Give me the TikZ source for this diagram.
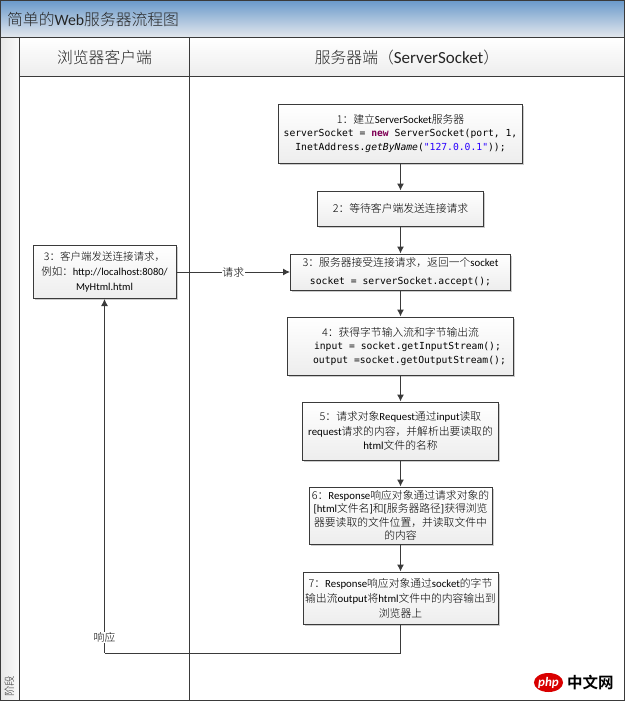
\documentclass[tikz,border=0pt]{standalone}
\usepackage{fontspec}
\setmainfont{Noto Sans CJK SC}[UprightFont=* Light]
\setmonofont{DejaVu Sans Mono}
\newfontfamily\latfont{Carlito}
\newcommand{\lat}[1]{{\latfont #1}}
\usetikzlibrary{arrows.meta,shadows,shapes.geometric}
\definecolor{codeword}{HTML}{7F0055}
\definecolor{codestring}{HTML}{2A00FF}
\definecolor{inkgray}{HTML}{3A3A3A}
\definecolor{titletop}{HTML}{6C9BCB}
\definecolor{titlebottom}{HTML}{E6E9EE}
\tikzset{
  flowbox/.style={draw=inkgray,line width=1pt,top color=white,bottom color=black!7,
    text=black,align=center,inner sep=0pt,
    drop shadow={shadow xshift=1.5pt,shadow yshift=-1.5pt,fill=black!40,opacity=0.5},
    font=\fontsize{10.8}{13.5}\selectfont},
  flowline/.style={draw=inkgray,line width=1pt},
  flowarrow/.style={flowline,-{Latex[length=7pt,width=7pt]}},
  linelabel/.style={fill=white,inner sep=0.5pt,text=black,font=\fontsize{10.8}{12}\selectfont},
  headtext/.style={text=black!85,font=\fontsize{15.8}{18}\selectfont},
}
\begin{document}
\begin{tikzpicture}[x=1pt,y=-1pt]
\useasboundingbox (0,0) rectangle (625,701);

% swimlane frame
\shade[top color=white,bottom color=black!7] (19,38) rectangle (624,76);
\shade[left color=black!9,right color=black!2] (1,38) rectangle (19,700);
\shade[top color=titletop,bottom color=titlebottom] (1,1) rectangle (624,38);
\draw[flowline] (0.5,0.5) rectangle (624,700);
\draw[flowline] (0.5,38) -- (624,38);
\draw[flowline] (19,76) -- (624,76);
\draw[flowline] (19,38) -- (19,700);
\draw[flowline] (189,38) -- (189,700);

\node[anchor=west,inner sep=0pt,text=black!85,font=\fontsize{15.8}{18}\selectfont] (title) at (7,19)
  {简单的\lat{Web}服务器流程图};
\node[headtext] (clienthead) at (104.5,57) {浏览器客户端};
\node[headtext] (serverhead) at (407,57) {服务器端（\lat{\fontsize{17}{18}\selectfont ServerSocket}）};
\node[rotate=90,text=black!80,inner sep=0pt,font=\fontsize{10.5}{12}\selectfont] (phase) at (9.5,686) {阶段};

% flow boxes
\node[flowbox,minimum width=244pt,minimum height=59pt] (server1) at (400.5,133.5)
  {1：建立\lat{ServerSocket}服务器\\
   \fontsize{9.7}{13}\selectfont\ttfamily serverSocket = \textcolor{codeword}{\bfseries new} ServerSocket(port, 1,\\
   \fontsize{9.7}{13}\selectfont\ttfamily InetAddress.\textit{getByName}(\textcolor{codestring}{"127.0.0.1"}));};
\node[flowbox,minimum width=166pt,minimum height=35pt] (server2) at (400.5,208.5)
  {2：等待客户端发送连接请求};
\node[flowbox,minimum width=220pt,minimum height=36pt] (server3) at (400.5,272)
  {3：服务器接受连接请求，返回一个\lat{socket}\\[4pt]
   \fontsize{9.7}{13}\selectfont\ttfamily socket = serverSocket.accept();};
\node[flowbox,minimum width=226pt,minimum height=58pt] (server4) at (400.5,346)
  {4：获得字节输入流和字节输出流\\
   \hspace*{14pt}\fontsize{9.7}{13}\selectfont\ttfamily input = socket.getInputStream();\\
   \hspace*{18pt}\fontsize{9.7}{13}\selectfont\ttfamily output =socket.getOutputStream();};
\node[flowbox,minimum width=196pt,minimum height=58pt,font=\fontsize{10.8}{14.5}\selectfont] (server5) at (400.5,431)
  {5：请求对象\lat{Request}通过\lat{input}读取\\
   \lat{request}请求的内容，并解析出要读取的\\
   \lat{html}文件的名称};
\node[flowbox,minimum width=183pt,minimum height=57pt] (server6) at (400.5,515.5)
  {6：\lat{Response}响应对象通过请求对象的\\
   \lat{[html}文件名\lat{]}和\lat{[}服务器路径\lat{]}获得浏览\\
   器要读取的文件位置，并读取文件中\\
   的内容};
\node[flowbox,minimum width=195pt,minimum height=52pt,font=\fontsize{10.8}{15}\selectfont] (server7) at (400.5,598)
  {7：\lat{Response}响应对象通过\lat{socket}的字节\\
   输出流\lat{output}将\lat{html}文件中的内容输出到\\
   浏览器上};
\node[flowbox,minimum width=143pt,minimum height=53pt,font=\fontsize{10.5}{15}\selectfont] (client) at (104.5,272)
  {3：客户端发送连接请求，\\
   例如：\lat{http://localhost:8080/}\\
   \lat{MyHtml.html}};

% connectors
\draw[flowarrow] (server1) -- (server2);
\draw[flowarrow] (server2) -- (server3);
\draw[flowarrow] (server3) -- (server4);
\draw[flowarrow] (server4) -- (server5);
\draw[flowarrow] (server5) -- (server6);
\draw[flowarrow] (server6) -- (server7);
\draw[flowarrow] (client) -- node[linelabel] (asklabel) {请求} (server3);
\coordinate (turn) at (104.5,653);
\draw[flowline] (server7) |- (turn);
\draw[flowarrow] (turn) -- node[linelabel,pos=0.045] (answerlabel) {响应} (client);

% site mark
\node[ellipse,fill=red!85!black,text=white,inner sep=0pt,minimum width=29pt,minimum height=19pt,
  font=\fontsize{13}{14}\selectfont\latfont\bfseries\itshape] (logo) at (548.5,682.5) {php};
\node[anchor=west,inner sep=0pt,text=black,font=\fontsize{15.5}{16}\selectfont\bfseries] (logotext) at (567,682.5) {中文网};
\end{tikzpicture}
\end{document}
